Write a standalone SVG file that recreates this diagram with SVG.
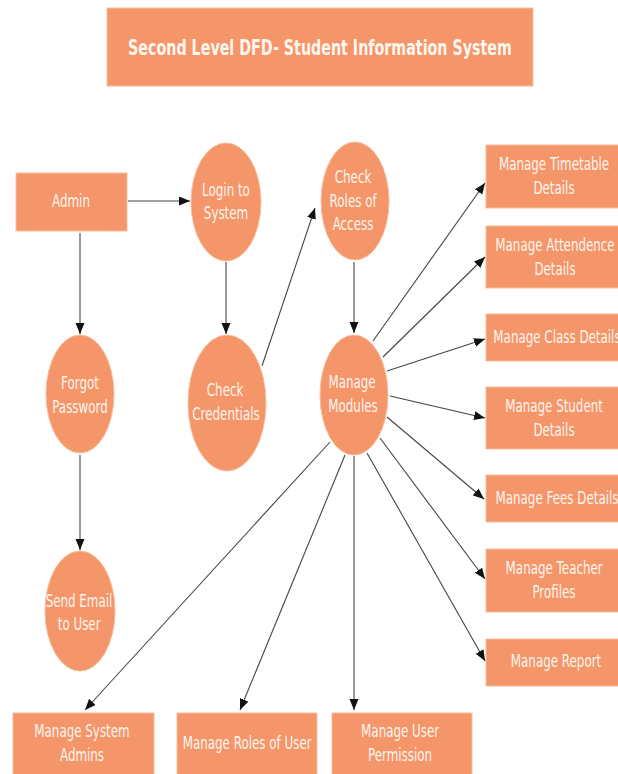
<svg xmlns="http://www.w3.org/2000/svg" width="618" height="774" viewBox="0 0 618 774">
<defs>
<marker id="arr" markerUnits="userSpaceOnUse" markerWidth="12" markerHeight="10" refX="11" refY="4.5" orient="auto">
<path d="M0,0 L11,4.5 L0,9 z" fill="#111"/>
</marker>
<style>
.n{fill:#F4956A;stroke:#F8BE9C;stroke-width:1}
.t{font-family:"DejaVu Sans",sans-serif;font-size:17px;fill:#FFF6EE;text-anchor:middle;dominant-baseline:central;transform-box:fill-box;transform-origin:center;transform:scaleX(0.7)}
.ttl{font-size:21px;font-weight:bold;transform:scaleX(0.68)}
.c line{stroke:#444;stroke-width:1.1;fill:none;marker-end:url(#arr)}
</style>
</defs>
<rect width="618" height="774" fill="#fff"/>
<g id="title"><rect class="n" x="107" y="8" width="426" height="78"/><text class="t ttl" x="320" y="47">Second Level DFD- Student Information System</text></g>
<g id="admin"><rect class="n" x="16" y="173" width="111" height="58"/><text class="t" x="71" y="201">Admin</text></g>
<g id="login"><ellipse class="n" cx="226" cy="202" rx="35" ry="59"/><text class="t" x="226" y="190">Login to</text><text class="t" x="226" y="213">System</text></g>
<g id="roles"><ellipse class="n" cx="355" cy="201" rx="34" ry="59"/><text class="t" x="353" y="177">Check</text><text class="t" x="353" y="201">Roles of</text><text class="t" x="353" y="224">Access</text></g>
<g id="forgot"><ellipse class="n" cx="80" cy="394" rx="34" ry="59"/><text class="t" x="80" y="383">Forgot</text><text class="t" x="80" y="407">Password</text></g>
<g id="cred"><ellipse class="n" cx="227" cy="403" rx="39" ry="68"/><text class="t" x="225" y="390">Check</text><text class="t" x="226" y="414">Credentials</text></g>
<g id="modules"><ellipse class="n" cx="354" cy="395" rx="34" ry="60"/><text class="t" x="352" y="382">Manage</text><text class="t" x="353" y="406">Modules</text></g>
<g id="email"><ellipse class="n" cx="80" cy="611" rx="35" ry="60"/><text class="t" x="79" y="601">Send Email</text><text class="t" x="79" y="624">to User</text></g>
<g id="timetable"><rect class="n" x="486" y="145" width="136" height="63"/><text class="t" x="554" y="164">Manage Timetable</text><text class="t" x="554" y="188">Details</text></g>
<g id="attend"><rect class="n" x="486" y="226" width="136" height="62"/><text class="t" x="555" y="245">Manage Attendence</text><text class="t" x="555" y="269">Details</text></g>
<g id="class"><rect class="n" x="486" y="314" width="136" height="47"/><text class="t" x="557" y="337">Manage Class Details</text></g>
<g id="student"><rect class="n" x="486" y="387" width="136" height="62"/><text class="t" x="554" y="406">Manage Student</text><text class="t" x="554" y="430">Details</text></g>
<g id="fees"><rect class="n" x="486" y="475" width="136" height="47"/><text class="t" x="557" y="498">Manage Fees Details</text></g>
<g id="teacher"><rect class="n" x="486" y="549" width="136" height="63"/><text class="t" x="554" y="568">Manage Teacher</text><text class="t" x="554" y="592">Profiles</text></g>
<g id="report"><rect class="n" x="486" y="639" width="136" height="47"/><text class="t" x="556" y="661">Manage Report</text></g>
<g id="sysadmins"><rect class="n" x="13" y="713" width="141" height="64"/><text class="t" x="82" y="731">Manage System</text><text class="t" x="82" y="755">Admins</text></g>
<g id="userroles"><rect class="n" x="177" y="713" width="140" height="64"/><text class="t" x="247" y="743">Manage Roles of User</text></g>
<g id="perm"><rect class="n" x="332" y="713" width="140" height="64"/><text class="t" x="400" y="731">Manage User</text><text class="t" x="400" y="755">Permission</text></g>
<g class="c" id="connectors">
<line x1="128" y1="201" x2="190" y2="201"/>
<line x1="80" y1="233" x2="80" y2="334"/>
<line x1="226" y1="262" x2="226" y2="334"/>
<line x1="80" y1="455" x2="80" y2="550"/>
<line x1="262" y1="366" x2="315" y2="208"/>
<line x1="354" y1="262" x2="354" y2="333"/>
<line x1="373" y1="341" x2="485" y2="183"/>
<line x1="383" y1="357" x2="485" y2="257"/>
<line x1="387" y1="371" x2="485" y2="339"/>
<line x1="390" y1="396" x2="485" y2="418"/>
<line x1="387" y1="417" x2="484" y2="499"/>
<line x1="380" y1="438" x2="485" y2="579"/>
<line x1="367" y1="453" x2="485" y2="661"/>
<line x1="330" y1="442" x2="85" y2="710"/>
<line x1="345" y1="455" x2="240" y2="710"/>
<line x1="354" y1="456" x2="354" y2="710"/>
</g>
</svg>
